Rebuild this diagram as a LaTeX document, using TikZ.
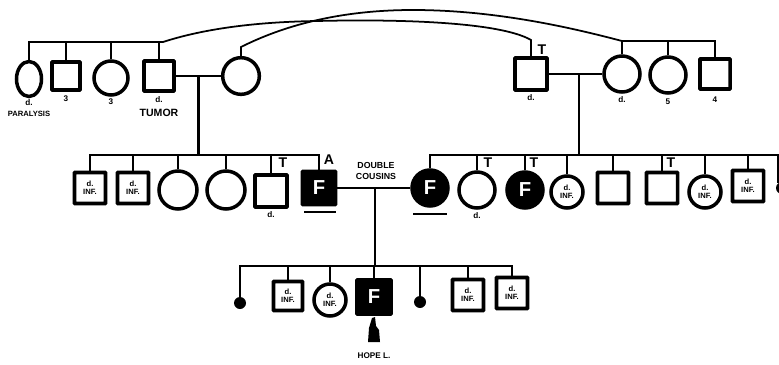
\documentclass[tikz,border=0pt]{standalone}
\usepackage{fontspec}
\setsansfont{Liberation Sans}
\usepackage{tikz}
\usetikzlibrary{calc, shapes.geometric}

\begin{document}
\begin{tikzpicture}[x=0.03cm, y=-0.03cm,
    ln/.style={line width=2pt},
    maschio/.style={draw, line width=3pt, rounded corners=0.4pt, minimum size=0.93cm, inner sep=0pt, align=center,
        font=\sffamily\bfseries\fontsize{6.5}{7}\selectfont},
    femmina/.style={draw, circle, line width=3pt, minimum size=1.08cm, inner sep=0pt, align=center,
        font=\sffamily\bfseries\fontsize{6.5}{7}\selectfont},
    malato/.style={fill=black, text=white, font=\sffamily\bfseries\LARGE},
    puntino/.style={circle, fill=black, minimum size=0.36cm, inner sep=0pt},
    etich/.style={inner sep=0pt, font=\sffamily\bfseries\fontsize{7}{8}\selectfont},
    lettera/.style={inner sep=0pt, font=\sffamily\bfseries\large}]
    \useasboundingbox (0,0) rectangle (779,365);

    % livelli delle fratrie
    \coordinate (s1) at (0,42);
    \coordinate (s2) at (0,41);
    \coordinate (s3) at (0,155);
    \coordinate (s4) at (0,266);

    % generazione I, sinistra
    \node[femmina, ellipse, minimum width=0.75cm, minimum height=1.05cm] (a1) at (29,79) {};
    \node[maschio, minimum size=0.84cm] (a2) at (66,76) {};
    \node[femmina, minimum size=1.02cm] (a3) at (111,78) {};
    \node[maschio, minimum size=0.9cm] (a4) at (159,76) {};
    \node[femmina, minimum size=1.1cm] (a5) at (241,76) {};
    \draw[ln] (a1.north) -- (a1.north |- s1) -- (163,42);
    \foreach \n in {a2,a3,a4} \draw[ln] (\n.north) -- (\n.north |- s1);
    \draw[ln] (a4.east) -- (a5.west);
    \coordinate (m1) at ($(a4.east)!0.5!(a5.west)$);
    \draw[ln] (m1) -- (m1 |- s3);

    \node[etich] (l1) at (29,103) {d.};
    \node[etich, font=\sffamily\bfseries\fontsize{6.5}{7}\selectfont] (l2) at (29,114) {PARALYSIS};
    \node[etich] (l3) at (66,99) {3};
    \node[etich] (l4) at (111,102) {3};
    \node[etich] (l5) at (159,100) {d.};
    \node[etich, font=\sffamily\bfseries\small] (l6) at (159,113) {TUMOR};

    % generazione I, destra
    \node[maschio, minimum size=0.96cm] (b1) at (531,74) {};
    \node[femmina] (b2) at (622,74) {};
    \node[femmina] (b3) at (668,75) {};
    \node[maschio, minimum size=0.9cm] (b4) at (715,74) {};
    \draw[ln] (b2.north) -- (b2.north |- s2) -- (b4.north |- s2) -- (b4.north);
    \draw[ln] (b3.north) -- (b3.north |- s2);
    \draw[ln] (b1.east) -- (b2.west);
    \coordinate (m2) at (579,0);
    \draw[ln] (m2 |- b2.west) -- (m2 |- s3);

    \node[lettera] (t1) at (542,50) {T};
    \node[etich] (l7) at (531,98) {d.};
    \node[etich] (l8) at (622,100) {d.};
    \node[etich] (l9) at (668,102) {5};
    \node[etich] (l10) at (715,100) {4};

    % archi tra le famiglie
    \draw[line width=1.5pt] (163,42) .. controls (200,30) and (250,22) .. (317,21)
        .. controls (400,19) and (500,22) .. (531,40) -- (b1.north);
    \draw[line width=1.5pt] (a5.north) -- (241,47) .. controls (275,30) and (330,10) .. (413,10)
        .. controls (500,10) and (580,30) .. (b2.north |- s2);

    % generazione II, sinistra
    \node[maschio] (c1) at (90,188) {d.\\INF.};
    \node[maschio] (c2) at (133,188) {d.\\INF.};
    \node[femmina, minimum size=1.14cm] (c3) at (178,190) {};
    \node[femmina, minimum size=1.14cm] (c4) at (226,190) {};
    \node[maschio, minimum size=0.96cm] (c5) at (271,191) {};
    \node[maschio, malato, minimum size=0.99cm] (c6) at (319,188) {F};
    \draw[ln] (c1.north) -- (c1.north |- s3) -- (c6.north |- s3) -- (c6.north);
    \foreach \n in {c2,c3,c4,c5} \draw[ln] (\n.north) -- (\n.north |- s3);

    \node[lettera] (t2) at (283,163) {T};
    \node[etich] (l11) at (271,215) {d.};
    \node[lettera] (t3) at (329,160) {A};
    \draw[line width=2.5pt] (304,212) -- (336,212);

    % doppi cugini
    \node[femmina, malato] (d1) at (430,188) {F};
    \draw[ln] (c6.east) -- (d1.west);
    \coordinate (m3) at (375,0);
    \draw[ln] (m3 |- c6.east) -- (m3 |- s4);
    \node[etich, align=center, font=\sffamily\bfseries\fontsize{7.5}{10}\selectfont] (l12) at (376,171) {DOUBLE\\COUSINS};
    \draw[line width=2.5pt] (413,214) -- (447,214);

    % generazione II, destra
    \node[femmina] (d2) at (477,190) {};
    \node[femmina, malato] (d3) at (525,190) {F};
    \node[femmina, minimum size=0.96cm] (d4) at (567,192) {d.\\INF.};
    \node[maschio] (d5) at (613,188) {};
    \node[maschio] (d6) at (662,188) {};
    \node[femmina, minimum size=0.96cm] (d7) at (705,192) {d.\\INF.};
    \node[maschio] (d8) at (748,186) {d.\\INF.};
    \node[puntino] (d9) at (782,188) {};
    \draw[ln] (d1.north) -- (d1.north |- s3) -- (779,155);
    \foreach \n in {d2,d3,d4,d5,d6,d7,d8} \draw[ln] (\n.north) -- (\n.north |- s3);
    \draw[ln] (778,155) -- (778,183);

    \node[lettera] (t4) at (488,163) {T};
    \node[etich] (l13) at (477,216) {d.};
    \node[lettera] (t5) at (534,163) {T};
    \node[lettera] (t6) at (671,163) {T};

    % generazione III
    \node[puntino] (e1) at (240,303) {};
    \node[maschio, minimum size=0.87cm] (e2) at (288,296) {d.\\INF.};
    \node[femmina, minimum size=0.96cm] (e3) at (330,300) {d.\\INF.};
    \node[maschio, malato, minimum size=1.02cm] (e4) at (374,297) {F};
    \node[puntino] (e5) at (420,302) {};
    \node[maschio] (e6) at (468,295) {d.\\INF.};
    \node[maschio] (e7) at (512,293) {d.\\INF.};
    \draw[ln] (e1.north) -- (e1.north |- s4) -- (e7.north |- s4) -- (e7.north);
    \foreach \n in {e2,e3,e4,e5,e6} \draw[ln] (\n.north) -- (\n.north |- s4);

    % mano che indica
    \fill (372,318) -- (375,317) -- (376,326) -- (379,330) -- (380,342) -- (368,342) -- (369,328) -- cycle;
    \node[etich] (l14) at (374,356) {HOPE L.};
\end{tikzpicture}
\end{document}
